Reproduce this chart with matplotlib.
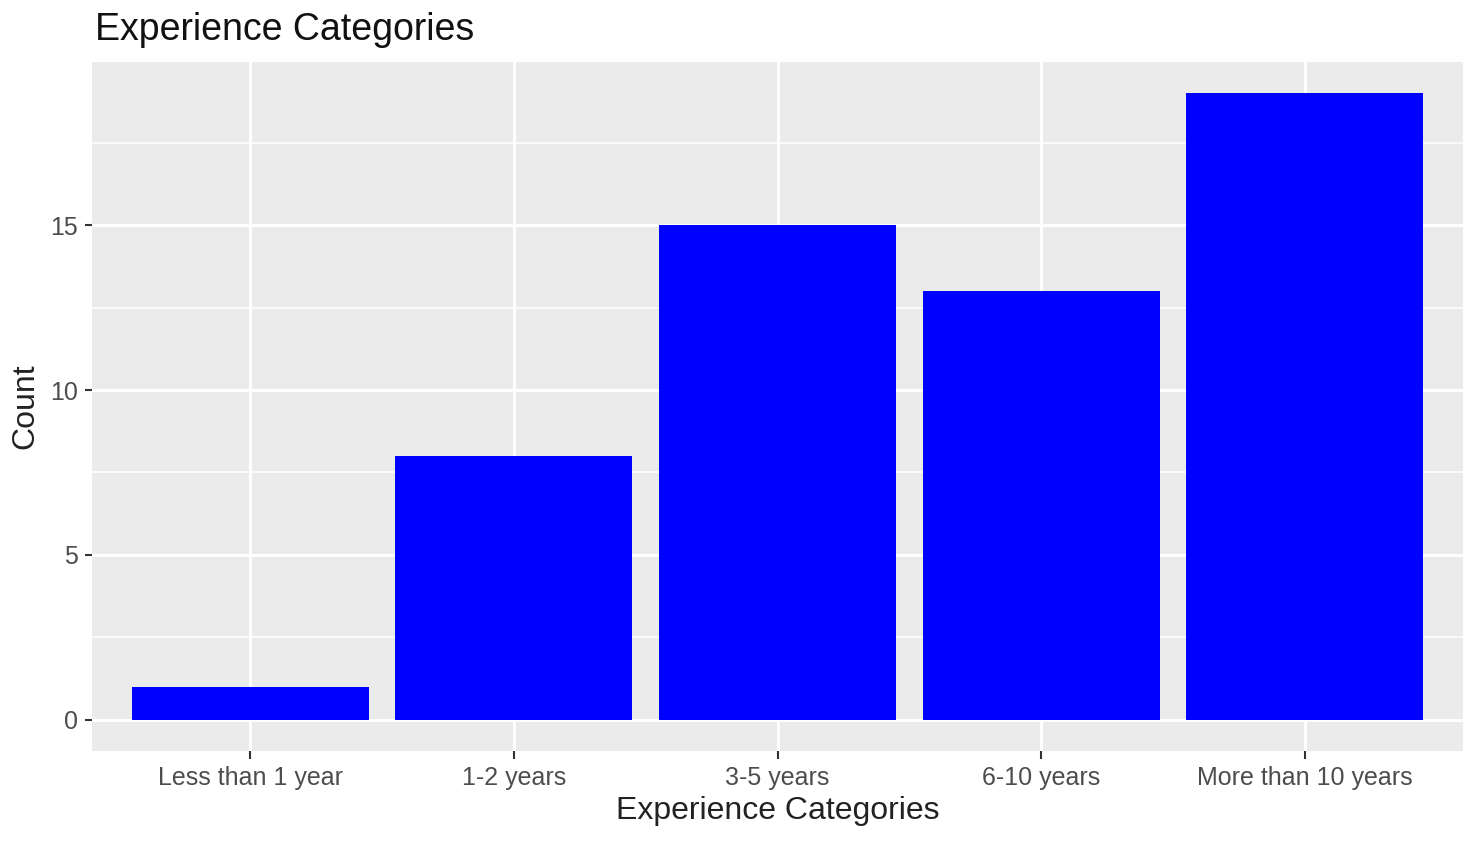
import matplotlib.pyplot as plt
import numpy as np

plt.rcParams['font.family'] = ['Liberation Sans', 'DejaVu Sans']

categories = ["Less than 1 year", "1-2 years", "3-5 years", "6-10 years", "More than 10 years"]
counts = [1, 8, 15, 13, 19]
y_ticks = [0, 5, 10, 15]

fig = plt.figure(figsize=(14.77, 8.43), dpi=100)
# panel spans roughly x 92..1463, y 62..751 px
ax = fig.add_axes([92 / 1477, 1 - 751 / 843, (1463 - 92) / 1477, (751 - 62) / 843])
ax.set_facecolor("#EBEBEB")

x = np.arange(1, len(categories) + 1)
ax.bar(x, counts, width=0.9, color="#0000FF", zorder=3)

ax.set_xlim(0.4, 5.6)
ax.set_ylim(-0.95, 19.95)
ax.set_xticks(x)
ax.set_xticklabels(categories, fontsize=18, color="#4D4D4D")
ax.set_yticks(y_ticks)
ax.set_yticklabels([str(v) for v in y_ticks], fontsize=18, color="#4D4D4D")
ax.set_yticks([2.5, 7.5, 12.5, 17.5], minor=True)

ax.grid(True, which="major", color="white", linewidth=2.2, zorder=0)
ax.grid(True, which="minor", axis="y", color="white", linewidth=1.1, zorder=0)
ax.tick_params(axis="x", which="major", length=6, width=1.5, color="#333333", pad=5)
ax.tick_params(axis="y", which="major", length=5, width=1.5, color="#333333", pad=5)
ax.tick_params(which="minor", length=0)
for s in ax.spines.values():
    s.set_visible(False)

ax.set_xlabel("Experience Categories", fontsize=23, labelpad=4, color="#222222")
ax.set_ylabel("Count", fontsize=23, labelpad=7, color="#222222")
fig.text(95 / 1477, 1 - 30 / 843, "Experience Categories", fontsize=27,
         va="center", ha="left", color="#111111")

fig.savefig("out.png", dpi=100)
